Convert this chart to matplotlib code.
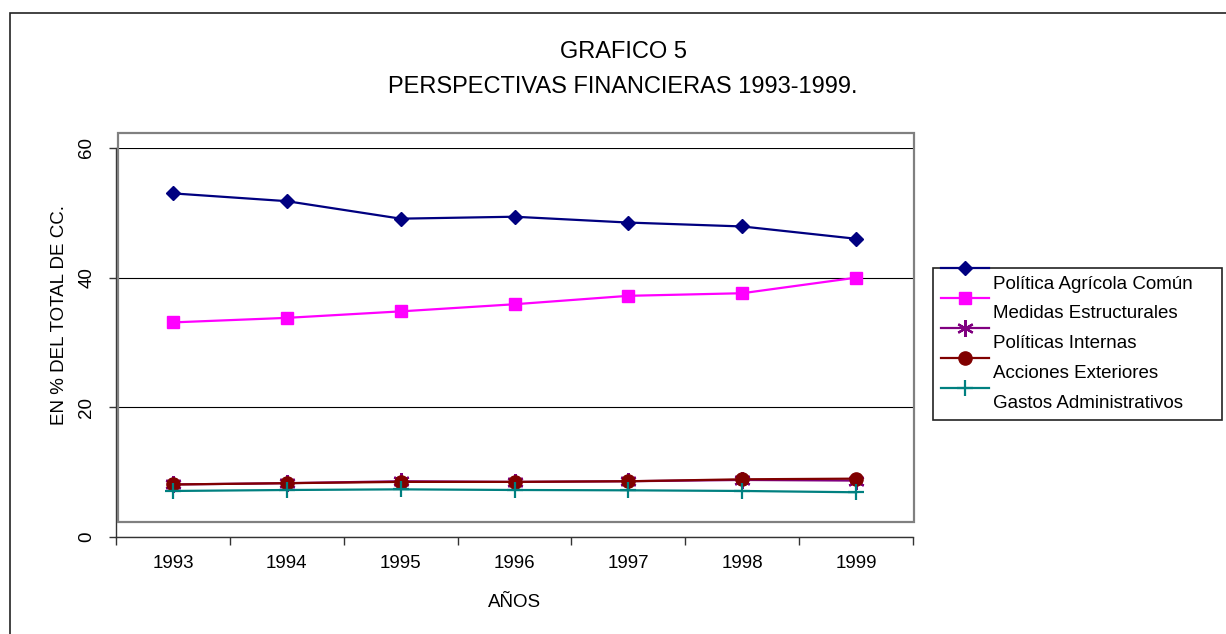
#!/usr/bin/env python3

"""
plot.py
"""

from matplotlib import pyplot as plt
from matplotlib.legend_handler import HandlerLine2D
from matplotlib.patches import Rectangle

years = ['1993', '1994', '1995', '1996', '1997', '1998', '1999']
pac = [53.0, 51.8, 49.1, 49.4, 48.5, 47.9, 46.0]
medidas = [33.1, 33.8, 34.8, 35.9, 37.2, 37.6, 40.0]
internas = [8.1, 8.3, 8.6, 8.5, 8.6, 8.8, 8.7]
acciones = [8.1, 8.3, 8.5, 8.5, 8.6, 8.9, 9.0]
gastos = [7.1, 7.25, 7.35, 7.25, 7.2, 7.1, 6.9]

labels = ['Política Agrícola Común', 'Medidas Estructurales',
          'Políticas Internas', 'Acciones Exteriores',
          'Gastos Administrativos']

W, H = 1226, 634
FS = 13.5
plt.rcParams['font.family'] = ['Liberation Sans', 'DejaVu Sans']


def fx(px):
  return px / W


def fy(py):
  return 1 - py / H


class RaisedHandler(HandlerLine2D):
  # Excel draws the legend sample about half a row above its text.
  def create_artists(self, legend, orig_handle, xdescent, ydescent,
                     width, height, fontsize, trans):
    return super().create_artists(legend, orig_handle, xdescent,
                                  ydescent - 20.0, width, height,
                                  fontsize, trans)


fig = plt.figure(figsize=(W / 100, H / 100), dpi=100)
ax = fig.add_axes([fx(116), fy(537), fx(913) - fx(116), fy(148) - fy(537)])

x = list(range(len(years)))
ax.plot(x, pac, color='#000080', lw=1.6, marker='D', ms=7.5, label=labels[0])
ax.plot(x, medidas, color='#FF00FF', lw=1.6, marker='s', ms=9, label=labels[1])
ax.plot(x, internas, color='#800080', lw=1.6, marker=(6, 2, 0), ms=12,
        mew=1.6, label=labels[2])
ax.plot(x, acciones, color='#800000', lw=1.6, marker='o', ms=9.5, label=labels[3])
ax.plot(x, gastos, color='#008080', lw=1.6, marker='+', ms=12, mew=1.6,
        label=labels[4])

ax.set_xlim(-0.5, len(years) - 0.5)
ax.set_ylim(0, 60)
ax.set_yticks([0, 20, 40, 60])
ax.set_xticks(x)
ax.set_xticklabels(years)
ax.set_xticks([i - 0.5 for i in range(len(years) + 1)], minor=True)
ax.tick_params(axis='x', which='major', length=0, pad=13, labelsize=FS)
ax.tick_params(axis='x', which='minor', length=6, width=1, color='#333333')
ax.tick_params(axis='y', length=5, width=1, pad=10, labelsize=FS,
               color='#333333')
for lab in ax.get_yticklabels():
  lab.set_rotation(90)
  lab.set_va('center')

ax.grid(axis='y', color='black', lw=0.8)
ax.set_axisbelow(True)
for side in ('top', 'right'):
  ax.spines[side].set_visible(False)
for side in ('left', 'bottom'):
  ax.spines[side].set_color('#333333')
  ax.spines[side].set_linewidth(1)

ax.set_xlabel('AÑOS', fontsize=FS)
ax.xaxis.set_label_coords(0.5, -0.147)
ax.set_ylabel('EN % DEL TOTAL DE CC.', fontsize=FS)
ax.yaxis.set_label_coords(-0.06, 0.57)

# gray plot-area frame, offset from the axes as in the original
fig.add_artist(Rectangle((fx(118), fy(522)), fx(914) - fx(118),
                         fy(133) - fy(522), transform=fig.transFigure,
                         fill=False, edgecolor='#808080', lw=1.6))
# outer chart border
fig.add_artist(Rectangle((fx(10), -0.1), 1.2, fy(13) + 0.1,
                         transform=fig.transFigure, fill=False,
                         edgecolor='#222222', lw=1.2))

fig.text(fx(623), fy(52), 'GRAFICO 5', ha='center', va='center', fontsize=17)
fig.text(fx(623), fy(87), 'PERSPECTIVAS FINANCIERAS 1993-1999.',
         ha='center', va='center', fontsize=17)

handles, _ = ax.get_legend_handles_labels()
leg = fig.legend(handles, labels, loc='upper left', mode='expand',
                 bbox_to_anchor=(fx(933), fy(268), fx(1222) - fx(933), 0),
                 borderaxespad=0, fontsize=FS, handlelength=2.6,
                 handletextpad=0.2, labelspacing=0.68, borderpad=0.4,
                 fancybox=False, edgecolor='#222222', framealpha=1,
                 handler_map={type(handles[0]): RaisedHandler()})
leg.get_frame().set_linewidth(1.2)

fig.savefig('out.png', dpi=100)
